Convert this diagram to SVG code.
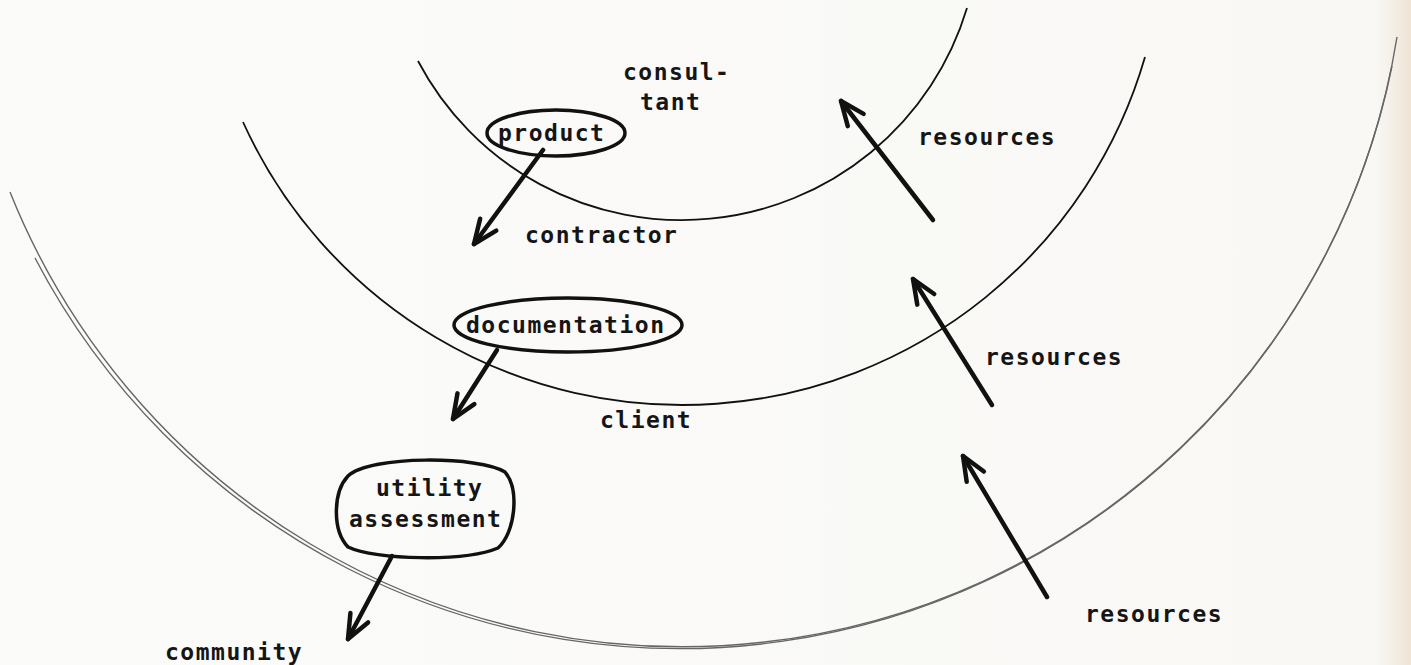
<svg xmlns="http://www.w3.org/2000/svg" width="1411" height="665" viewBox="0 0 1411 665">
<defs>
<linearGradient id="paper" x1="0" y1="0" x2="1" y2="0">
<stop offset="0" stop-color="#fbfbfa"/>
<stop offset="0.975" stop-color="#f9f8f5"/>
<stop offset="1" stop-color="#efe4d6"/>
</linearGradient>
<marker id="head" markerUnits="userSpaceOnUse" markerWidth="40" markerHeight="40" refX="0" refY="0" viewBox="-30 -20 40 40" orient="auto" overflow="visible">
<path d="M -24 -10 L 0 0 L -24 10" fill="none" stroke="#111" stroke-width="4.5" stroke-linecap="round" stroke-linejoin="round"/>
</marker>
<style>
.arc{fill:none;stroke:#111;stroke-width:1.8}
.outer{fill:none;stroke:#666;stroke-width:1.4}
.bubble{fill:none;stroke:#111;stroke-width:3.5}
.arrow{fill:none;stroke:#111;stroke-width:4.5;stroke-linecap:round;marker-end:url(#head)}
.t{font-family:"DejaVu Sans Mono","Liberation Mono",monospace;font-size:23px;font-weight:bold;letter-spacing:1.5px;fill:#151515}
</style>
</defs>
<rect x="0" y="0" width="1411" height="665" fill="url(#paper)"/>
<g id="rings">
<path id="ring-consultant" class="arc" d="M 418 61 A 298 298 0 0 0 967 8"/>
<path id="ring-contractor" class="arc" d="M 243 122 A 482 482 0 0 0 1145 57"/>
<path id="ring-client" class="outer" d="M 10 192 A 724 724 0 0 0 1397 37"/>
<path class="outer" d="M 35 258 A 727 727 0 0 0 1392 66"/>
</g>
<g id="labels">
<text class="t" x="623" y="80">consul-</text>
<text class="t" x="640" y="110">tant</text>
<text class="t" x="525" y="243">contractor</text>
<text class="t" x="600" y="428">client</text>
<text class="t" x="165" y="660">community</text>
</g>
<g id="node-product">
<ellipse class="bubble" cx="556" cy="133" rx="69" ry="23"/>
<text class="t" x="498" y="141">product</text>
</g>
<g id="node-documentation">
<ellipse class="bubble" cx="568" cy="325" rx="114" ry="27"/>
<text class="t" x="466" y="333">documentation</text>
</g>
<g id="node-utility">
<path class="bubble" d="M 348 476 C 370 455 480 456 505 472 C 520 490 515 533 498 548 C 465 562 375 560 348 547 C 332 530 333 492 348 476 Z"/>
<text class="t" x="376" y="496">utility</text>
<text class="t" x="349" y="527">assessment</text>
</g>
<g id="node-resources">
<text class="t" x="918" y="145">resources</text>
<text class="t" x="985" y="365">resources</text>
<text class="t" x="1085" y="622">resources</text>
</g>
<g id="connectors">
<path class="arrow" d="M 543 150 L 474 244"/>
<path class="arrow" d="M 497 350 L 453 419"/>
<path class="arrow" d="M 392 556 L 348 639"/>
<path class="arrow" d="M 933 220 L 841 101"/>
<path class="arrow" d="M 992 405 L 913 279"/>
<path class="arrow" d="M 1047 597 L 963 456"/>
</g>
</svg>
